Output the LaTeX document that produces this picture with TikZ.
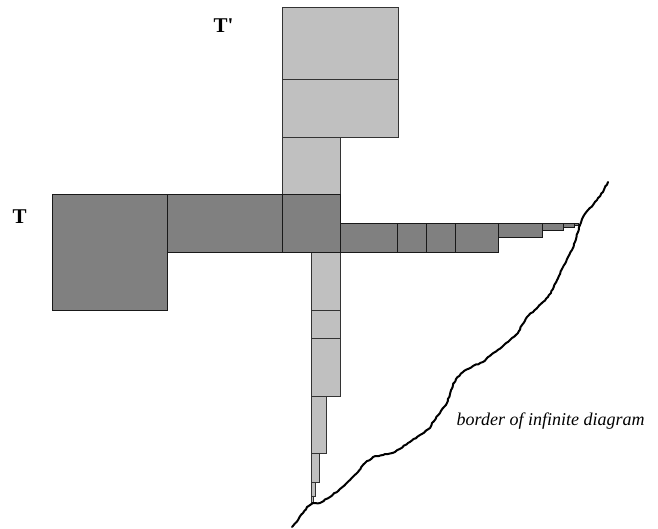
\documentclass[tikz,border=0pt]{standalone}
\usepackage{fontspec}
\setmainfont{Liberation Serif}
\usetikzlibrary{decorations.pathmorphing}
\tikzset{
  darkbox/.style={fill={rgb,255:red,128;green,128;blue,128}, draw=black!90, line width=0.9pt},
  lightbox/.style={fill={rgb,255:red,192;green,192;blue,192}, draw=black!80, line width=0.9pt},
  border/.style={draw=black, line width=2pt, line join=round, line cap=round,
    decorate, decoration={random steps, segment length=2.5pt, amplitude=0.5pt}},
  biglabel/.style={font=\fontsize{21}{23}\selectfont\bfseries, inner sep=0pt, anchor=base west},
  caption/.style={font=\fontsize{18}{20}\selectfont\itshape, inner sep=0pt, anchor=base west}
}
\begin{document}
\begin{tikzpicture}[x=1pt, y=-1pt]
\pgfmathsetseed{4217}
\useasboundingbox (0,0) rectangle (658,529);

% tile T' (light), upper column
\draw[lightbox] (282.7,7.3)  rectangle (398.3,79.7);
\draw[lightbox] (282.7,79.7) rectangle (398.3,137);
\draw[lightbox] (282.7,137)  rectangle (340.3,194.3);

% tile T' continued below the crossing
\draw[lightbox] (311.7,252.3) rectangle (340.3,310.3);
\draw[lightbox] (311.7,310.3) rectangle (340.3,338.7);
\draw[lightbox] (311.7,338.7) rectangle (340.3,396);
\draw[lightbox] (311.7,396)   rectangle (326,453.3);
\draw[lightbox] (311.7,453.3) rectangle (319.3,482.7);
\draw[lightbox] (311.7,482.7) rectangle (315.3,496.7);
\draw[lightbox, line width=0.6pt] (311.7,496.7) rectangle (313.5,502.7);

% tile T (dark), left part and crossing
\draw[darkbox] (52.3,194.3)  rectangle (167.7,310);
\draw[darkbox] (167.7,194.3) rectangle (282.7,252.3);
\draw[darkbox] (282.7,194.3) rectangle (340.3,252.3);

% tile T continued to the right
\draw[darkbox] (340.3,223.3) rectangle (397.7,252.3);
\draw[darkbox] (397.7,223.3) rectangle (426.7,252.3);
\draw[darkbox] (426.7,223.3) rectangle (455.5,252.3);
\draw[darkbox] (455.5,223.3) rectangle (498.5,252.3);
\draw[darkbox] (498.5,223.3) rectangle (542.3,237.5);
\draw[darkbox] (542.3,223.3) rectangle (563.7,230.7);
\draw[darkbox] (563.7,223.3) rectangle (574,227);
\draw[darkbox, line width=0.6pt] (574,223.3) rectangle (578,225.2);

% border line
\coordinate (btop) at (608,182);
\coordinate (bbot) at (292,527);
\draw[border] (btop) -- (603,192) -- (598,198) -- (593,205) -- (588,210)
  -- (583,217) -- (580,225) -- (578,232) -- (575,242) -- (572,250)
  -- (567,259) -- (563,267) -- (557,280) -- (553,289) -- (548,297)
  -- (538,307) -- (527,317) -- (522,325) -- (518,333) -- (510,340)
  -- (502,347) -- (492,354) -- (483,362) -- (473,366) -- (463,372)
  -- (456,379) -- (453,385) -- (450,394) -- (447,403) -- (440,413)
  -- (432,423) -- (430,428) -- (420,435) -- (408,443) -- (395,452)
  -- (383,455) -- (373,457) -- (365,463) -- (358,472) -- (350,480)
  -- (340,489) -- (330,497) -- (320,503) -- (313,503) -- (307,507)
  -- (303,513) -- (298,520) -- (bbot);

% labels
\node[biglabel] (T)  at (12.5,223.5) {T};
\node[biglabel] (Tp) at (213.5,33) {T\textquotesingle};
\node[caption] (cap) at (456.5,425) {border of infinite diagram};
\end{tikzpicture}
\end{document}
